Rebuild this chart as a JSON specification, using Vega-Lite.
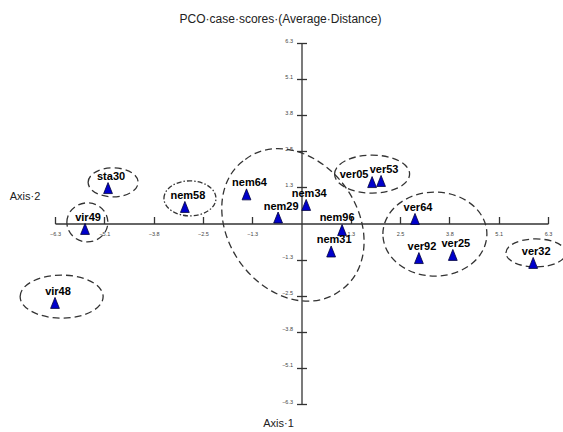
{
  "$schema": "https://vega.github.io/schema/vega-lite/v6.json",
  "width": 493,
  "height": 361,
  "autosize": {"type": "none"},
  "padding": {"left": 55, "top": 43, "right": 15, "bottom": 28},
  "title": {
    "text": "PCO·case·scores·(Average·Distance)",
    "font": "Liberation Sans",
    "fontSize": 12,
    "fontWeight": "normal",
    "color": "#222222",
    "anchor": "middle",
    "dx": -21,
    "offset": 12
  },
  "datasets": {
    "samples": [
      {"id": "sta30", "x": -4.96, "y": 1.24},
      {"id": "vir49", "x": -5.55, "y": -0.19},
      {"id": "vir48", "x": -6.32, "y": -2.78},
      {"id": "nem58", "x": -2.99, "y": 0.58},
      {"id": "nem64", "x": -1.41, "y": 1.02},
      {"id": "nem29", "x": -0.6, "y": 0.21},
      {"id": "nem34", "x": 0.12, "y": 0.65},
      {"id": "nem96", "x": 1.04, "y": -0.23},
      {"id": "nem31", "x": 0.76, "y": -0.98},
      {"id": "ver05", "x": 1.81, "y": 1.45},
      {"id": "ver53", "x": 2.04, "y": 1.49},
      {"id": "ver64", "x": 2.91, "y": 0.16},
      {"id": "ver92", "x": 3.01, "y": -1.21},
      {"id": "ver25", "x": 3.88, "y": -1.1},
      {"id": "ver32", "x": 5.94, "y": -1.38}
    ],
    "clusters": [
      {"cluster": "nem", "x": -0.22, "y": -0.05},
      {"cluster": "ver05-53", "x": 1.81, "y": 1.73},
      {"cluster": "ver", "x": 3.42, "y": -0.37},
      {"cluster": "ver32", "x": 6.01, "y": -1.03},
      {"cluster": "nem58", "x": -2.86, "y": 0.88},
      {"cluster": "sta30", "x": -4.83, "y": 1.44},
      {"cluster": "vir49", "x": -5.49, "y": 0.04},
      {"cluster": "vir48", "x": -6.15, "y": -2.56}
    ]
  },
  "layer": [
    {
      "data": {"name": "clusters"},
      "mark": {"type": "point", "filled": false, "size": 4, "stroke": "#333333", "strokeWidth": 1.3, "opacity": 1, "clip": false},
      "encoding": {
        "x": {"field": "x", "type": "quantitative", "scale": {"domain": [-6.32, 6.32], "nice": false, "zero": false}, "axis": null},
        "y": {"field": "y", "type": "quantitative", "scale": {"domain": [-6.32, 6.32], "nice": false, "zero": false}, "axis": null},
        "shape": {
          "field": "cluster", "type": "nominal", "legend": null,
          "scale": {
            "domain": ["nem", "ver05-53", "ver", "ver32", "nem58", "sta30", "vir49", "vir48"],
            "range": [
              "M -47.6 -65.5 A 81 63 54 1 1 47.6 65.5 A 81 63 54 1 1 -47.6 -65.5 Z",
              "M -37.5 0 A 37.5 19 0 1 1 37.5 0 A 37.5 19 0 1 1 -37.5 0 Z",
              "M -52 0 A 52 42 0 1 1 52 0 A 52 42 0 1 1 -52 0 Z",
              "M -30 0 A 30 14 0 1 1 30 0 A 30 14 0 1 1 -30 0 Z",
              "M -26 0 A 26 17.5 0 1 1 26 0 A 26 17.5 0 1 1 -26 0 Z",
              "M -25 0 A 25 14.5 0 1 1 25 0 A 25 14.5 0 1 1 -25 0 Z",
              "M -20.5 0 A 20.5 19.5 0 1 1 20.5 0 A 20.5 19.5 0 1 1 -20.5 0 Z",
              "M -41.5 0 A 41.5 21.5 0 1 1 41.5 0 A 41.5 21.5 0 1 1 -41.5 0 Z"
            ]
          }
        },
        "strokeDash": {
          "field": "cluster", "type": "nominal", "legend": null,
          "scale": {
            "domain": ["nem", "ver05-53", "ver", "ver32", "nem58", "sta30", "vir49", "vir48"],
            "range": [[7, 4], [7, 4], [7, 4], [7, 4], [5, 2, 1.5, 2], [7, 4], [7, 4], [7, 4]]
          }
        }
      }
    },
    {
      "data": {"name": "samples"},
      "mark": {"type": "point", "shape": "M0,-1L-0.8,1L0.8,1Z", "filled": true, "fill": "#0000CC", "stroke": "#00003A", "strokeWidth": 0.8, "size": 121, "opacity": 1},
      "encoding": {
        "x": {
          "field": "x", "type": "quantitative",
          "scale": {"domain": [-6.32, 6.32], "nice": false, "zero": false},
          "axis": {
            "orient": "bottom", "offset": -180.5,
            "values": [-6.32, -5.056, -3.792, -2.528, -1.264, 1.264, 2.528, 3.792, 5.056, 6.32],
            "format": ".1f", "grid": false, "ticks": false,
            "domain": true, "domainColor": "#333333", "domainWidth": 1.3,
            "labelFont": "Liberation Sans", "labelFontSize": 5.5, "labelColor": "#444444", "labelPadding": 8, "labelFlush": false, "labelOverlap": false,
            "title": "Axis·1", "titleX": 223, "titleY": 200, "titleAngle": 0, "titleAlign": "center", "titleBaseline": "middle",
            "titleFont": "Liberation Sans", "titleFontSize": 11, "titleFontWeight": "normal", "titleColor": "#222222"
          }
        },
        "y": {
          "field": "y", "type": "quantitative",
          "scale": {"domain": [-6.32, 6.32], "nice": false, "zero": false},
          "axis": {
            "orient": "left", "offset": -246.5,
            "values": [-6.32, -5.056, -3.792, -2.528, -1.264, 1.264, 2.528, 3.792, 5.056, 6.32],
            "format": ".1f", "grid": false, "ticks": true, "tickSize": 5, "tickColor": "#333333", "tickWidth": 1.3,
            "domain": true, "domainColor": "#333333", "domainWidth": 1.3,
            "labelFont": "Liberation Sans", "labelFontSize": 5.5, "labelColor": "#444444", "labelPadding": 4, "labelOffset": -3, "labelFlush": false, "labelOverlap": false,
            "title": "Axis·2", "titleX": -277, "titleY": 153, "titleAngle": 0, "titleAlign": "center", "titleBaseline": "middle",
            "titleFont": "Liberation Sans", "titleFontSize": 11, "titleFontWeight": "normal", "titleColor": "#222222"
          }
        }
      }
    },
    {
      "data": {"name": "samples"},
      "transform": [{"filter": "datum.id !== 'ver05' && datum.id !== 'nem96'"}],
      "mark": {"type": "text", "font": "Liberation Sans", "fontSize": 11, "fontWeight": "bold", "color": "#000000", "dx": 3, "dy": -11, "align": "center", "baseline": "middle"},
      "encoding": {
        "text": {"field": "id", "type": "nominal"},
        "x": {
          "field": "x", "type": "quantitative",
          "scale": {"domain": [-6.32, 6.32], "nice": false, "zero": false},
          "axis": {
            "orient": "top", "offset": -180.5,
            "values": [-6.32, -5.056, -3.792, -2.528, -1.264, 1.264, 2.528, 3.792, 5.056, 6.32],
            "grid": false, "ticks": true, "tickSize": 7, "tickColor": "#333333", "tickWidth": 1.3,
            "labels": false, "domain": false, "title": null
          }
        },
        "y": {
          "field": "y", "type": "quantitative",
          "scale": {"domain": [-6.32, 6.32], "nice": false, "zero": false},
          "axis": {
            "orient": "right", "offset": -246.5,
            "values": [-6.32, -5.056, -3.792, -2.528, -1.264, 1.264, 2.528, 3.792, 5.056, 6.32],
            "grid": false, "ticks": true, "tickSize": 5, "tickColor": "#333333", "tickWidth": 1.3,
            "labels": false, "domain": false, "title": null
          }
        }
      }
    },
    {
      "data": {"name": "samples"},
      "transform": [{"filter": "datum.id === 'ver05'"}],
      "mark": {"type": "text", "font": "Liberation Sans", "fontSize": 11, "fontWeight": "bold", "color": "#000000", "dx": -18, "dy": -7, "align": "center", "baseline": "middle"},
      "encoding": {
        "text": {"field": "id", "type": "nominal"},
        "x": {"field": "x", "type": "quantitative", "scale": {"domain": [-6.32, 6.32], "nice": false, "zero": false}, "axis": null},
        "y": {"field": "y", "type": "quantitative", "scale": {"domain": [-6.32, 6.32], "nice": false, "zero": false}, "axis": null}
      }
    },
    {
      "data": {"name": "samples"},
      "transform": [{"filter": "datum.id === 'nem96'"}],
      "mark": {"type": "text", "font": "Liberation Sans", "fontSize": 11, "fontWeight": "bold", "color": "#000000", "dx": -5, "dy": -12, "align": "center", "baseline": "middle"},
      "encoding": {
        "text": {"field": "id", "type": "nominal"},
        "x": {"field": "x", "type": "quantitative", "scale": {"domain": [-6.32, 6.32], "nice": false, "zero": false}, "axis": null},
        "y": {"field": "y", "type": "quantitative", "scale": {"domain": [-6.32, 6.32], "nice": false, "zero": false}, "axis": null}
      }
    }
  ],
  "resolve": {"axis": {"x": "independent", "y": "independent"}},
  "config": {"view": {"stroke": null}, "font": "Liberation Sans"}
}
